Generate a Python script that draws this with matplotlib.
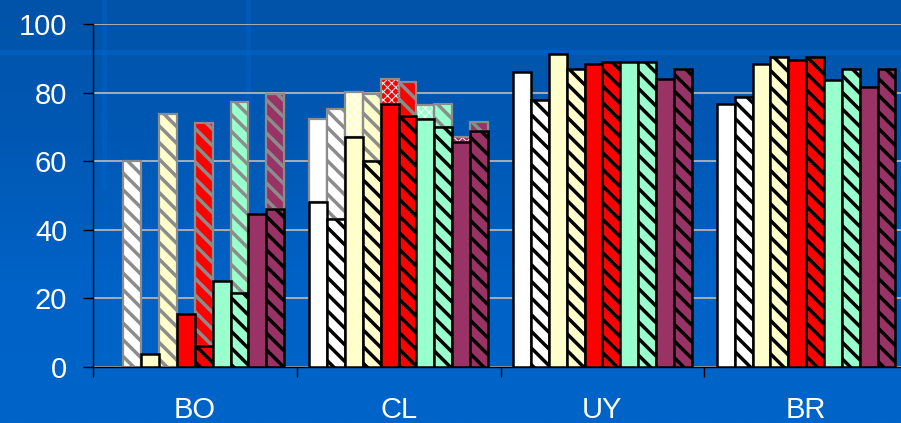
import numpy as np
import matplotlib
matplotlib.use("Agg")
import matplotlib.pyplot as plt
from matplotlib.colors import LinearSegmentedColormap

# ---------------- data ----------------
groups = ["BO", "CL", "UY", "BR"]
yticks = [0, 20, 40, 60, 80, 100]

# lower (main) segment of each bar, per group
white_solid  = [0.0, 48.2, 86.2, 76.6]
white_hatch  = [0.0, 43.0, 77.9, 78.9]
yellow_solid = [3.7, 67.2, 91.2, 88.3]
yellow_hatch = [0.0, 60.0, 86.8, 90.5]
red_solid    = [15.4, 76.7, 88.3, 89.6]
red_hatch    = [6.0, 73.2, 89.0, 90.5]
aqua_solid   = [25.0, 72.3, 88.9, 83.7]
aqua_hatch   = [21.4, 70.1, 89.0, 86.8]
purple_solid = [44.6, 65.7, 83.9, 81.7]
purple_hatch = [46.1, 68.8, 86.8, 86.8]

# top of the lighter stacked segment (None = no upper segment)
white_solid_top  = [None, 72.2, None, None]
white_hatch_top  = [60.1, 75.2, None, None]
yellow_solid_top = [None, 80.2, None, None]
yellow_hatch_top = [73.8, 79.6, None, None]
red_solid_top    = [None, 84.0, None, None]
red_hatch_top    = [71.1, 83.2, None, None]
aqua_solid_top   = [None, 76.3, None, None]
aqua_hatch_top   = [77.4, 76.6, None, None]
purple_solid_top = [None, 67.2, None, None]
purple_hatch_top = [79.6, 71.6, None, None]

colors = ["#FFFFFF", "#FFFFCC", "#FF0000", "#99FFCC", "#993366"]

series = [
    (white_solid, white_solid_top, colors[0], False),
    (white_hatch, white_hatch_top, colors[0], True),
    (yellow_solid, yellow_solid_top, colors[1], False),
    (yellow_hatch, yellow_hatch_top, colors[1], True),
    (red_solid, red_solid_top, colors[2], False),
    (red_hatch, red_hatch_top, colors[2], True),
    (aqua_solid, aqua_solid_top, colors[3], False),
    (aqua_hatch, aqua_hatch_top, colors[3], True),
    (purple_solid, purple_solid_top, colors[4], False),
    (purple_hatch, purple_hatch_top, colors[4], True),
]

plt.rcParams['font.family'] = ['Liberation Sans', 'DejaVu Sans']
plt.rcParams['hatch.linewidth'] = 2.5

W, H = 901, 423
fig = plt.figure(figsize=(W / 100, H / 100), dpi=100)

# background gradient
bg = fig.add_axes([0, 0, 1, 1], zorder=-10)
cmap = LinearSegmentedColormap.from_list("bg", ["#0053A8", "#0058B4", "#0062C6", "#0064C9"])
grad = np.linspace(0, 1, 256).reshape(-1, 1)
bg.imshow(grad, aspect="auto", cmap=cmap, extent=[0, 1, 0, 1], origin="upper")
bg.axhspan(1 - 55 / H, 1 - 50 / H, color="#0066CC", alpha=0.5, lw=0)
for x0, x1, a in [(102 / W, 107 / W, 0.35), (246 / W, 251 / W, 0.35)]:
    bg.axvspan(x0, x1, ymin=0.55, ymax=1, color="#0068D2", alpha=a, lw=0)
bg.set_xlim(0, 1)
bg.set_ylim(0, 1)
bg.axis("off")

left, right = 93 / W, 908 / W
bottom, top = (H - 366.7) / H, (H - 24.3) / H
ax = fig.add_axes([left, bottom, right - left, top - bottom])
ax.set_facecolor("none")

n = len(series)
bw = 0.0877
start = (1 - n * bw) / 2

for k, (low, topv, col, hatched) in enumerate(series):
    xs = np.arange(len(groups)) + start + k * bw
    lows = np.array(low, dtype=float)
    tops = np.array([t if t is not None else np.nan for t in topv], dtype=float)
    has = ~np.isnan(tops)
    # upper (lighter) segments
    if has.any():
        ux = xs[has]
        ub = lows[has]
        uh = tops[has] - lows[has]
        if hatched:
            ax.bar(ux, uh, bw, bottom=ub, align="edge", color=col,
                   edgecolor="#8C8C8C", hatch="\\\\", linewidth=1.6, zorder=2)
        else:
            if col != "#FFFFFF":
                bars = ax.bar(ux, uh, bw, bottom=ub, align="edge", color=col,
                              edgecolor="#FFFFFF", hatch="xxxx", linewidth=0, zorder=2)
                for b in bars:
                    if hasattr(b, "set_hatch_linewidth"):
                        b.set_hatch_linewidth(0.7)
                ax.bar(ux, uh, bw, bottom=ub, align="edge", facecolor="none",
                       edgecolor="#8C8C8C", linewidth=1.6, zorder=2.1)
            else:
                ax.bar(ux, uh, bw, bottom=ub, align="edge", color=col,
                       edgecolor="#8C8C8C", linewidth=1.6, zorder=2)
    # lower segments
    m = lows > 0
    if hatched:
        ax.bar(xs[m], lows[m], bw, align="edge", color=col, edgecolor="black",
               hatch="\\\\", linewidth=1.8, zorder=3)
    else:
        ax.bar(xs[m], lows[m], bw, align="edge", color=col, edgecolor="black",
               linewidth=1.8, zorder=3)

ax.set_xlim(0, len(groups))
ax.set_ylim(0, 100)
ax.set_yticks(yticks)
ax.set_yticklabels([str(v) for v in yticks])
ax.yaxis.grid(True, color="#B4B4B4", linewidth=1.3, zorder=0)
ax.set_axisbelow(True)

ax.set_xticks(np.arange(len(groups) + 1))
ax.set_xticklabels([])
ax.set_xticks(np.arange(len(groups)) + 0.5, minor=True)
ax.set_xticklabels(groups, minor=True)
ax.tick_params(axis="x", which="major", length=7, width=1, color="black", direction="out")
ax.tick_params(axis="x", which="minor", length=0, pad=21, labelsize=21, labelcolor="white")
ax.tick_params(axis="y", length=7.5, width=1, color="black", direction="out",
               pad=11, labelsize=21, labelcolor="white")

for s in ["top", "right"]:
    ax.spines[s].set_visible(False)
for s in ["left", "bottom"]:
    ax.spines[s].set_color("black")
    ax.spines[s].set_linewidth(1.0)

fig.savefig("out.png", dpi=100)
